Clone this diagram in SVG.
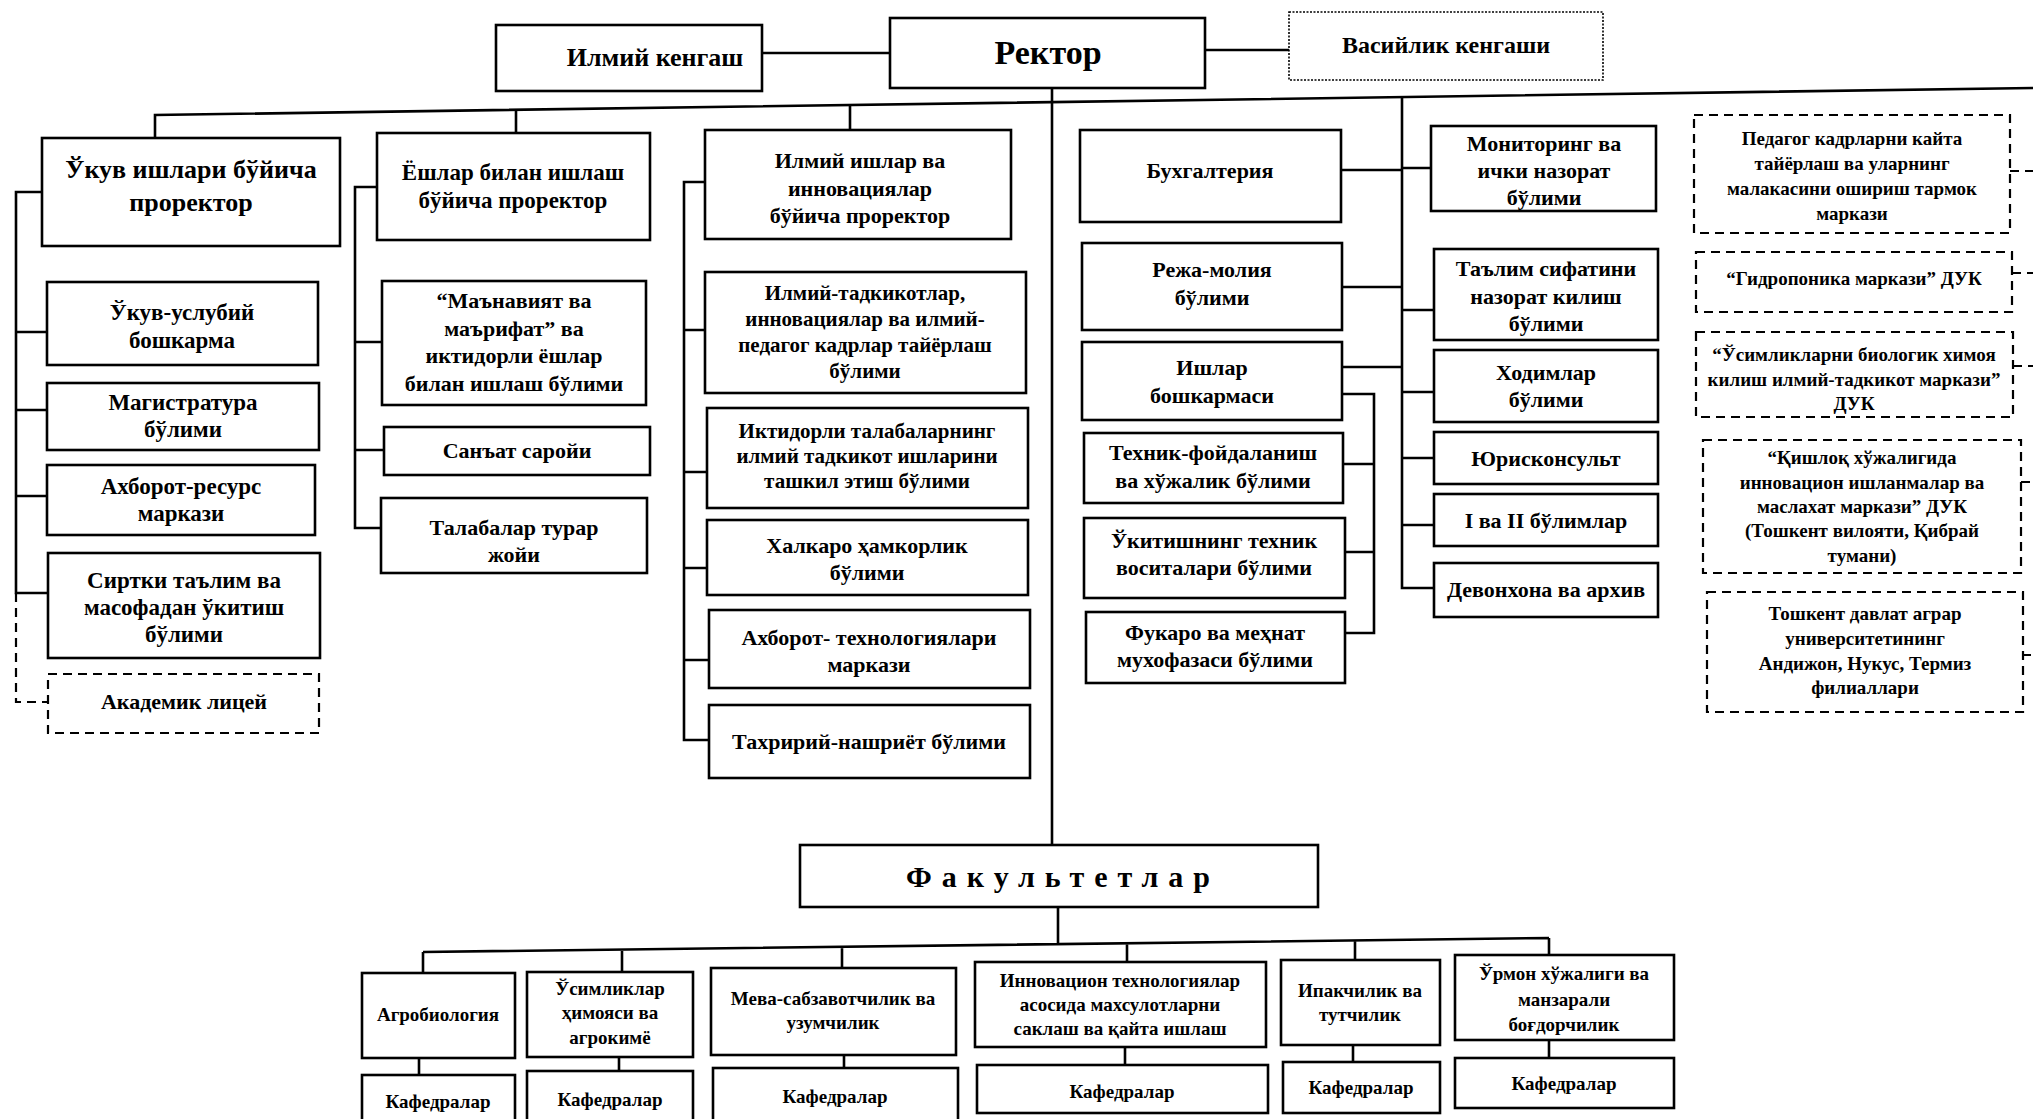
<svg xmlns="http://www.w3.org/2000/svg" width="2033" height="1119" viewBox="0 0 2033 1119">
<style>
.b{fill:#fff;stroke:#000;stroke-width:2.6}
.d{fill:#fff;stroke:#000;stroke-width:2.2;stroke-dasharray:9 6}
.o{fill:#fff;stroke:#000;stroke-width:1.6;stroke-dasharray:2 1.5}
.l{fill:none;stroke:#000;stroke-width:2.6}
.ld{fill:none;stroke:#000;stroke-width:2.2;stroke-dasharray:9 6}
text{font-family:"Liberation Serif","DejaVu Serif",serif;font-weight:bold;text-anchor:middle;fill:#000}
.f34{font-size:34px}.f26{font-size:26px}.f24{font-size:24px}.f23{font-size:23px}.f22{font-size:22px}.f21{font-size:21px}.f19{font-size:19px}
.fk{font-size:30px;letter-spacing:10px}
</style>
<rect width="2033" height="1119" fill="#fff"/>
<g id="connectors">
<path class="l" d="M762,53H890M1205,50H1289"/>
<path class="l" d="M155,138V115L2033,88"/>
<path class="l" d="M516,110V133M850,105V130M1052,88V845"/>
<path class="l" d="M42,192H16V593H48M16,332H47M16,410H47M16,496H47"/>
<path class="ld" d="M16,593V702H48"/>
<path class="l" d="M377,187H355V528H381M355,342H382M355,450H384"/>
<path class="l" d="M705,182H684V740H709M684,330H705M684,472H707M684,568H707M684,660H709"/>
<path class="l" d="M1341,170H1402M1342,287H1402M1342,367H1402M1342,394H1374V633H1345M1343,464H1374M1345,552H1374"/>
<path class="l" d="M1402,97V588H1434M1402,168H1431M1402,310H1434M1402,392H1434M1402,458H1434M1402,525H1434"/>
<path class="ld" d="M2010,171H2033M2012,273H2033M2013,366H2033M2021,482H2031M2023,655H2031"/>
<path class="l" d="M1058,907V944M423,952L1549,938M423,952V973M622,949V972M842,947V968M1127,943V962M1355,940V960M1549,938V955"/>
<path class="l" d="M419,1058V1075M619,1057V1071M844,1055V1068M1125,1047V1065M1353,1045V1062M1549,1040V1058"/>
</g>
<g id="ilmiy-kengash"><rect class="b" x="496" y="25" width="266" height="66"/><text class="f26" x="655" y="66">Илмий кенгаш</text></g>
<g id="rektor"><rect class="b" x="890" y="18" width="315" height="70"/><text class="f34" x="1048" y="64">Ректор</text></g>
<g id="vasiylik"><rect class="o" x="1289" y="12" width="314" height="68"/><text class="f24" x="1446" y="53">Васийлик кенгаши</text></g>

<g id="ukuv-prorektor"><rect class="b" x="42" y="138" width="298" height="108"/><text class="f26" x="191" y="178">Ўкув ишлари бўйича</text><text class="f26" x="191" y="211">проректор</text></g>
<g id="ukuv-uslubiy"><rect class="b" x="47" y="282" width="271" height="83"/><text class="f23" x="182" y="320">Ўкув-услубий</text><text class="f23" x="182" y="348">бошкарма</text></g>
<g id="magistratura"><rect class="b" x="47" y="383" width="272" height="67"/><text class="f23" x="183" y="410">Магистратура</text><text class="f23" x="183" y="437">бўлими</text></g>
<g id="axborot-resurs"><rect class="b" x="47" y="465" width="268" height="70"/><text class="f23" x="181" y="494">Ахборот-ресурс</text><text class="f23" x="181" y="521">маркази</text></g>
<g id="sirtki"><rect class="b" x="48" y="553" width="272" height="105"/><text class="f23" x="184" y="588">Сиртки таълим ва</text><text class="f23" x="184" y="615">масофадан ўкитиш</text><text class="f23" x="184" y="642">бўлими</text></g>
<g id="akademik-litsey"><rect class="d" x="48" y="674" width="271" height="59"/><text class="f22" x="184" y="709">Академик лицей</text></g>

<g id="yoshlar-prorektor"><rect class="b" x="377" y="133" width="273" height="107"/><text class="f23" x="513" y="180">Ёшлар билан ишлаш</text><text class="f23" x="513" y="208">бўйича проректор</text></g>
<g id="manaviyat"><rect class="b" x="382" y="281" width="264" height="124"/><text class="f22" x="514" y="308">“Маънавият ва</text><text class="f22" x="514" y="336">маърифат” ва</text><text class="f22" x="514" y="363">иктидорли ёшлар</text><text class="f22" x="514" y="391">билан ишлаш бўлими</text></g>
<g id="sanat-saroyi"><rect class="b" x="384" y="427" width="266" height="48"/><text class="f22" x="517" y="458">Санъат саройи</text></g>
<g id="talabalar-turar-joyi"><rect class="b" x="381" y="498" width="266" height="75"/><text class="f22" x="514" y="535">Талабалар турар</text><text class="f22" x="514" y="562">жойи</text></g>

<g id="ilmiy-prorektor"><rect class="b" x="705" y="130" width="306" height="109"/><text class="f22" x="860" y="168">Илмий ишлар ва</text><text class="f22" x="860" y="196">инновациялар</text><text class="f22" x="860" y="223">бўйича проректор</text></g>
<g id="ilmiy-tadqiqotlar"><rect class="b" x="705" y="272" width="321" height="121"/><text class="f21" x="865" y="300">Илмий-тадкикотлар,</text><text class="f21" x="865" y="326">инновациялар ва илмий-</text><text class="f21" x="865" y="352">педагог кадрлар тайёрлаш</text><text class="f21" x="865" y="378">бўлими</text></g>
<g id="iqtidorli"><rect class="b" x="707" y="408" width="321" height="100"/><text class="f21" x="867" y="438">Иктидорли талабаларнинг</text><text class="f21" x="867" y="463">илмий тадкикот ишларини</text><text class="f21" x="867" y="488">ташкил этиш бўлими</text></g>
<g id="xalqaro"><rect class="b" x="707" y="520" width="321" height="75"/><text class="f22" x="867" y="553">Халкаро ҳамкорлик</text><text class="f22" x="867" y="580">бўлими</text></g>
<g id="axborot-texnologiyalari"><rect class="b" x="709" y="610" width="321" height="78"/><text class="f22" x="869" y="645">Ахборот- технологиялари</text><text class="f22" x="869" y="672">маркази</text></g>
<g id="taxririy"><rect class="b" x="709" y="705" width="321" height="73"/><text class="f22" x="869" y="749">Тахририй-нашриёт бўлими</text></g>

<g id="buxgalteriya"><rect class="b" x="1080" y="130" width="261" height="92"/><text class="f22" x="1210" y="178">Бухгалтерия</text></g>
<g id="reja-moliya"><rect class="b" x="1082" y="243" width="260" height="87"/><text class="f22" x="1212" y="277">Режа-молия</text><text class="f22" x="1212" y="305">бўлими</text></g>
<g id="ishlar"><rect class="b" x="1082" y="342" width="260" height="78"/><text class="f22" x="1212" y="375">Ишлар</text><text class="f22" x="1212" y="403">бошкармаси</text></g>
<g id="texnik"><rect class="b" x="1084" y="433" width="259" height="70"/><text class="f22" x="1213" y="460">Техник-фойдаланиш</text><text class="f22" x="1213" y="488">ва хўжалик бўлими</text></g>
<g id="ukitish"><rect class="b" x="1084" y="518" width="261" height="80"/><text class="f22" x="1214" y="548">Ўкитишнинг техник</text><text class="f22" x="1214" y="575">воситалари бўлими</text></g>
<g id="fuqaro"><rect class="b" x="1086" y="612" width="259" height="71"/><text class="f22" x="1215" y="640">Фукаро ва меҳнат</text><text class="f22" x="1215" y="667">мухофазаси бўлими</text></g>

<g id="monitoring"><rect class="b" x="1431" y="126" width="225" height="85"/><text class="f22" x="1544" y="151">Мониторинг ва</text><text class="f22" x="1544" y="178">ички назорат</text><text class="f22" x="1544" y="205">бўлими</text></g>
<g id="talim-sifati"><rect class="b" x="1434" y="249" width="224" height="91"/><text class="f22" x="1546" y="276">Таълим сифатини</text><text class="f22" x="1546" y="304">назорат килиш</text><text class="f22" x="1546" y="331">бўлими</text></g>
<g id="xodimlar"><rect class="b" x="1434" y="350" width="224" height="72"/><text class="f22" x="1546" y="380">Ходимлар</text><text class="f22" x="1546" y="407">бўлими</text></g>
<g id="yuriskonsult"><rect class="b" x="1434" y="432" width="224" height="52"/><text class="f22" x="1546" y="466">Юрисконсульт</text></g>
<g id="i-ii-bulimlar"><rect class="b" x="1434" y="494" width="224" height="52"/><text class="f22" x="1546" y="528">I ва II бўлимлар</text></g>
<g id="devonxona"><rect class="b" x="1434" y="563" width="224" height="54"/><text class="f22" x="1546" y="597">Девонхона ва архив</text></g>

<g id="pedagog"><rect class="d" x="1694" y="115" width="316" height="118"/><text class="f19" x="1852" y="145">Педагог кадрларни кайта</text><text class="f19" x="1852" y="170">тайёрлаш ва уларнинг</text><text class="f19" x="1852" y="195">малакасини ошириш тармок</text><text class="f19" x="1852" y="220">маркази</text></g>
<g id="gidroponika"><rect class="d" x="1696" y="252" width="316" height="60"/><text class="f19" x="1854" y="285">“Гидропоника маркази” ДУК</text></g>
<g id="usimliklarni"><rect class="d" x="1696" y="332" width="317" height="85"/><text class="f19" x="1854" y="361">“Ўсимликларни биологик химоя</text><text class="f19" x="1854" y="386">килиш илмий-тадкикот маркази”</text><text class="f19" x="1854" y="410">ДУК</text></g>
<g id="qishloq"><rect class="d" x="1703" y="440" width="318" height="133"/><text class="f19" x="1862" y="464">“Қишлоқ хўжалигида</text><text class="f19" x="1862" y="489">инновацион ишланмалар ва</text><text class="f19" x="1862" y="513">маслахат маркази” ДУК</text><text class="f19" x="1862" y="537">(Тошкент вилояти, Қибрай</text><text class="f19" x="1862" y="562">тумани)</text></g>
<g id="toshkent-filiallar"><rect class="d" x="1707" y="592" width="316" height="120"/><text class="f19" x="1865" y="620">Тошкент давлат аграр</text><text class="f19" x="1865" y="645">университетининг</text><text class="f19" x="1865" y="670">Андижон, Нукус, Термиз</text><text class="f19" x="1865" y="694">филиаллари</text></g>

<g id="fakultetlar"><rect class="b" x="800" y="845" width="518" height="62"/><text class="fk" x="1063" y="887">Факультетлар</text></g>
<g id="agrobiologiya"><rect class="b" x="362" y="973" width="153" height="85"/><text class="f19" x="438" y="1021">Агробиология</text></g>
<g id="usimliklar-himoyasi"><rect class="b" x="527" y="972" width="166" height="85"/><text class="f19" x="610" y="995">Ўсимликлар</text><text class="f19" x="610" y="1019">ҳимояси ва</text><text class="f19" x="610" y="1044">агрокимё</text></g>
<g id="meva"><rect class="b" x="711" y="968" width="245" height="87"/><text class="f19" x="833" y="1005">Мева-сабзавотчилик ва</text><text class="f19" x="833" y="1029">узумчилик</text></g>
<g id="innovatsion"><rect class="b" x="975" y="962" width="291" height="85"/><text class="f19" x="1120" y="987">Инновацион технологиялар</text><text class="f19" x="1120" y="1011">асосида махсулотларни</text><text class="f19" x="1120" y="1035">саклаш ва қайта ишлаш</text></g>
<g id="ipakchilik"><rect class="b" x="1281" y="960" width="159" height="85"/><text class="f19" x="1360" y="997">Ипакчилик ва</text><text class="f19" x="1360" y="1021">тутчилик</text></g>
<g id="urmon"><rect class="b" x="1455" y="955" width="219" height="85"/><text class="f19" x="1564" y="980">Ўрмон хўжалиги ва</text><text class="f19" x="1564" y="1006">манзарали</text><text class="f19" x="1564" y="1031">боғдорчилик</text></g>
<g id="kaf-1"><rect class="b" x="362" y="1075" width="153" height="50"/><text class="f19" x="438" y="1108">Кафедралар</text></g>
<g id="kaf-2"><rect class="b" x="527" y="1071" width="166" height="54"/><text class="f19" x="610" y="1106">Кафедралар</text></g>
<g id="kaf-3"><rect class="b" x="713" y="1068" width="245" height="57"/><text class="f19" x="835" y="1103">Кафедралар</text></g>
<g id="kaf-4"><rect class="b" x="977" y="1065" width="291" height="48"/><text class="f19" x="1122" y="1098">Кафедралар</text></g>
<g id="kaf-5"><rect class="b" x="1283" y="1062" width="157" height="51"/><text class="f19" x="1361" y="1094">Кафедралар</text></g>
<g id="kaf-6"><rect class="b" x="1455" y="1058" width="219" height="50"/><text class="f19" x="1564" y="1090">Кафедралар</text></g>
</svg>
